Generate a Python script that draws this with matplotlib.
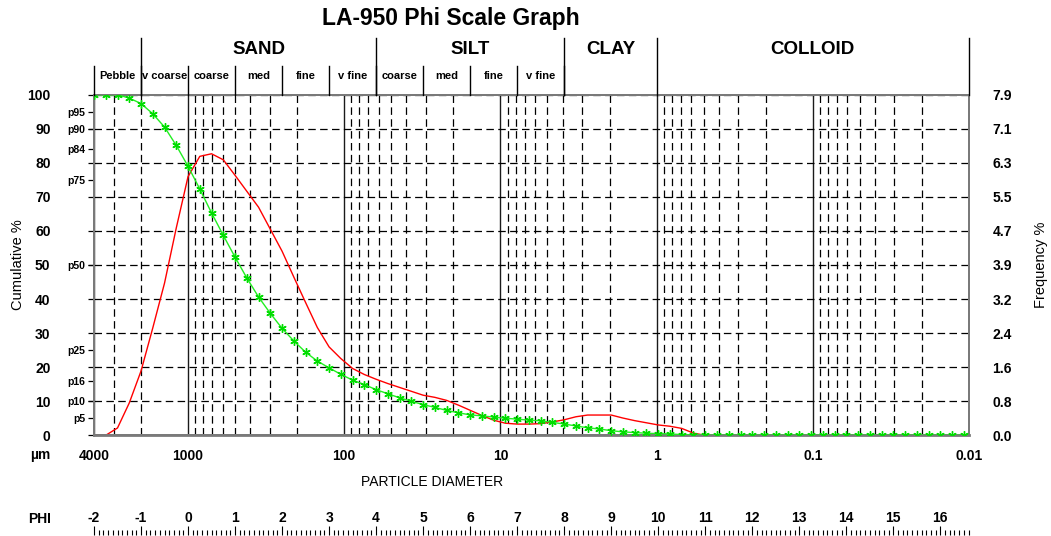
import numpy as np
import matplotlib
matplotlib.use("Agg")
import matplotlib.pyplot as plt
import matplotlib.transforms as mtransforms
from matplotlib.lines import Line2D
from matplotlib.ticker import LogLocator, NullFormatter, MultipleLocator

plt.rcParams['font.family'] = ['Liberation Sans', 'DejaVu Sans']
plt.rcParams['axes.unicode_minus'] = False

# size channels (phi units, quarter-phi steps)
phi = [-2.0, -1.75, -1.5, -1.25, -1.0, -0.75, -0.5, -0.25, 0.0, 0.25,
       0.5, 0.75, 1.0, 1.25, 1.5, 1.75, 2.0, 2.25, 2.5, 2.75,
       3.0, 3.25, 3.5, 3.75, 4.0, 4.25, 4.5, 4.75, 5.0, 5.25,
       5.5, 5.75, 6.0, 6.25, 6.5, 6.75, 7.0, 7.25, 7.5, 7.75,
       8.0, 8.25, 8.5, 8.75, 9.0, 9.25, 9.5, 9.75, 10.0, 10.25,
       10.5, 10.75, 11.0, 11.25, 11.5, 11.75, 12.0, 12.25, 12.5, 12.75,
       13.0, 13.25, 13.5, 13.75, 14.0, 14.25, 14.5, 14.75, 15.0, 15.25,
       15.5, 15.75, 16.0, 16.25, 16.5]

# cumulative % (green)
cumulative = [100, 100, 100, 99.0, 97.4, 94.4, 90.5, 85.1, 79.0, 72.3,
              65.3, 58.7, 52.3, 46.2, 40.6, 35.8, 31.4, 27.7, 24.4, 21.8,
              19.8, 17.9, 16.2, 14.9, 13.4, 12.2, 11.0, 10.0, 9.0, 8.2,
              7.3, 6.6, 6.0, 5.7, 5.35, 5.0, 4.75, 4.45, 4.25, 3.8,
              3.3, 2.75, 2.2, 1.85, 1.35, 1.0, 0.8, 0.6, 0.5, 0.4,
              0.2, 0.1, 0, 0, 0, 0, 0, 0, 0, 0,
              0, 0, 0, 0, 0, 0, 0, 0, 0, 0,
              0, 0, 0, 0, 0]

# frequency % (red)
frequency = [0, 0, 0.17, 0.75, 1.49, 2.49, 3.53, 4.81, 6.00, 6.47,
             6.53, 6.39, 6.03, 5.66, 5.29, 4.78, 4.27, 3.67, 3.08, 2.50,
             2.05, 1.78, 1.55, 1.41, 1.30, 1.20, 1.11, 1.02, 0.93, 0.88,
             0.81, 0.70, 0.58, 0.46, 0.35, 0.28, 0.26, 0.26, 0.27, 0.31,
             0.36, 0.43, 0.47, 0.47, 0.47, 0.40, 0.34, 0.29, 0.24, 0.21,
             0.16, 0.05, 0, 0, 0, 0, 0, 0, 0, 0,
             0, 0, 0, 0, 0, 0, 0, 0, 0, 0,
             0, 0, 0, 0, 0]

um_ticks = [4000, 1000, 100, 10, 1, 0.1, 0.01]
um_labels = ['4000', '1000', '100', '10', '1', '0.1', '0.01']
cum_ticks = [0, 10, 20, 30, 40, 50, 60, 70, 80, 90, 100]
freq_labels = ['0.0', '0.8', '1.6', '2.4', '3.2', '3.9', '4.7', '5.5', '6.3', '7.1', '7.9']
pct_ticks = [95, 90, 84, 75, 50, 25, 16, 10, 5]
pct_labels = ['p95', 'p90', 'p84', 'p75', 'p50', 'p25', 'p16', 'p10', 'p5']

# size classes (um boundaries)
main_classes = ['SAND', 'SILT', 'CLAY', 'COLLOID']
main_bounds = [2000, 62.5, 3.9, 1, 0.01]
sub_classes = ['Pebble', 'v coarse', 'coarse', 'med', 'fine', 'v fine',
               'coarse', 'med', 'fine', 'v fine']
sub_bounds = [4000, 2000, 1000, 500, 250, 125, 62.5, 31.25, 15.6, 7.8, 3.9]


def to_um(p):
    return 1000.0 * 2.0 ** (-np.asarray(p, dtype=float))


def to_phi(d):
    return -np.log2(np.asarray(d, dtype=float) / 1000.0)


W, H = 1051, 536
fig = plt.figure(figsize=(W / 100, H / 100), dpi=100)


def fx(px):
    return px / W


def fy(py):
    return 1 - py / H


left, right, top, bottom = 94, 969, 94.7, 435.3
ax = fig.add_axes([fx(left), fy(bottom), fx(right) - fx(left), (bottom - top) / H])
ax.set_xscale('log')
ax.set_xlim(4000, 0.01)
ax.set_ylim(0, 7.9)

ax2 = ax.twinx()
ax2.set_ylim(0, 100)
ax.yaxis.tick_right()
ax2.yaxis.tick_left()

diam = to_um(phi)
ax.plot(diam, frequency, color='#ff0000', lw=1.0, zorder=3)
ax2.plot(diam, cumulative, color='#22ee22', lw=1.0, marker=(6, 2, 0), ms=6,
         mew=1.0, mec='#00dd00', zorder=4)

# x axis: decades solid, minor dashed
ax.set_xticks(um_ticks)
ax.set_xticklabels(um_labels, fontsize=10, fontweight='bold')
ax.xaxis.set_minor_locator(LogLocator(base=10, subs=np.arange(2, 10)))
ax.xaxis.set_minor_formatter(NullFormatter())
ax.tick_params(axis='x', which='both', length=0, pad=10)
ax.grid(True, which='major', axis='x', color='#1a1a1a', ls='-', lw=1.0)
ax.grid(True, which='minor', axis='x', color='black', ls=(0, (6, 3.5)), lw=0.9)

# right: frequency labels
ax.set_yticks(np.linspace(0, 7.9, 11))
ax.set_yticklabels(freq_labels, fontsize=10, fontweight='bold')
ax.tick_params(axis='y', length=0, pad=17)
ax.grid(True, which='major', axis='y', color='black', ls=(0, (6, 3.5)), lw=0.9)
ax.set_axisbelow(True)

# left: cumulative labels + percentiles
ax2.yaxis.remove_overlapping_locs = False
ax2.set_yticks(cum_ticks)
ax2.set_yticklabels([str(v) for v in cum_ticks], fontsize=10, fontweight='bold')
ax2.set_yticks(pct_ticks, minor=True)
ax2.set_yticklabels(pct_labels, minor=True, fontsize=7.5, fontweight='bold')
ax2.tick_params(axis='y', which='major', length=4.3, width=0.9, pad=27)
ax2.tick_params(axis='y', which='minor', length=4.3, width=0.9, pad=2)

for a in (ax, ax2):
    for s in a.spines.values():
        s.set_color('#7a7a7a')
        s.set_linewidth(1.4)
ax.spines['bottom'].set_linewidth(2.0)

# header classes
blend = mtransforms.blended_transform_factory(ax.transData, fig.transFigure)
for d in main_bounds:
    fig.add_artist(Line2D([d, d], [fy(38), fy(top)], transform=blend, color='black', lw=1.0))
for d in sub_bounds:
    fig.add_artist(Line2D([d, d], [fy(66), fy(top)], transform=blend, color='black', lw=1.0))
for i, name in enumerate(main_classes):
    xc = np.sqrt(main_bounds[i] * main_bounds[i + 1])
    fig.text(xc, fy(49), name, transform=blend, ha='center', va='center',
             fontsize=13.5, fontweight='bold')
for i, name in enumerate(sub_classes):
    xc = np.sqrt(sub_bounds[i] * sub_bounds[i + 1])
    fig.text(xc, fy(76), name, transform=blend, ha='center', va='center',
             fontsize=8, fontweight='bold')

# texts
fig.text(fx(451), fy(18), 'LA-950 Phi Scale Graph', ha='center', va='center',
         fontsize=16.5, fontweight='bold')
fig.text(fx(18), fy(265), 'Cumulative %', rotation=90, ha='center', va='center', fontsize=10.5)
fig.text(fx(1041), fy(265), 'Frequency %', rotation=90, ha='center', va='center', fontsize=10.5)
fig.text(fx(40), fy(455), 'µm', ha='center', va='center', fontsize=10, fontweight='bold')
fig.text(fx(432), fy(482), 'PARTICLE DIAMETER', ha='center', va='center', fontsize=10)
fig.text(fx(40), fy(519), 'PHI', ha='center', va='center', fontsize=10, fontweight='bold')

# phi ruler
axp = fig.add_axes([fx(left), 1 / H, fx(right) - fx(left), 9 / H])
axp.set_xlim(-2, to_phi(0.01))
axp.xaxis.set_major_locator(MultipleLocator(1))
axp.xaxis.set_minor_locator(MultipleLocator(0.1))
axp.tick_params(axis='x', which='both', direction='in', bottom=True, top=False,
                labelbottom=False, labeltop=True, labelsize=10, pad=1, width=0.8)
axp.tick_params(axis='x', which='major', length=6.5)
axp.tick_params(axis='x', which='minor', length=3.4)
for lab in axp.get_xticklabels():
    lab.set_fontweight('bold')
axp.set_yticks([])
axp.patch.set_visible(False)
for s in axp.spines.values():
    s.set_visible(False)

fig.savefig('out.png', dpi=100)
